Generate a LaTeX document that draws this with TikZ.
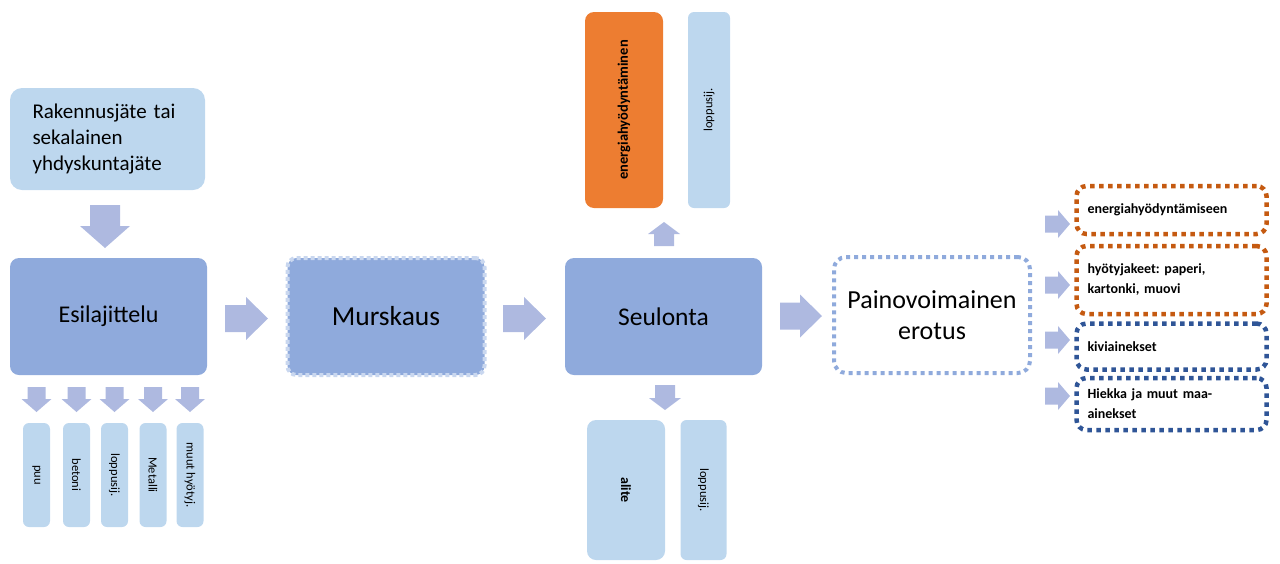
\documentclass[tikz,border=0pt]{standalone}
\usepackage{fontspec}
\setmainfont{Carlito}
\frenchspacing
\definecolor{lightbox}{HTML}{BDD7EE}
\definecolor{midbox}{HTML}{8FAADC}
\definecolor{arrowc}{HTML}{AEB9E0}
\definecolor{orangebox}{HTML}{ED7D31}
\definecolor{dotorange}{HTML}{C55A11}
\definecolor{dotblue}{HTML}{2F5597}
\definecolor{dashlight}{HTML}{C9D7EF}
% block arrow: centre x, centre y, rotation, length, head width, shaft width, head length
\newcommand\blockarr[7]{%
  \fill[arrowc, shift={(#1,#2)}, rotate=#3]
    (-#4/2,-#6/2) -- (#4/2-#7,-#6/2) -- (#4/2-#7,-#5/2) -- (#4/2,0)
    -- (#4/2-#7,#5/2) -- (#4/2-#7,#6/2) -- (-#4/2,#6/2) -- cycle;}
\tikzset{
  lbox/.style={fill=lightbox, draw=none, rounded corners=6pt, inner sep=0pt},
  mbox/.style={fill=midbox, draw=none, rounded corners=9pt, inner sep=0pt, minimum width=197pt, minimum height=117pt},
  rbox/.style={draw=#1, line width=4.5pt, dash pattern=on 4.5pt off 4.5pt, rounded corners=10pt, minimum width=190pt, align=left, text width=168pt, inner sep=0pt, font=\fontsize{14}{20}\selectfont\bfseries},
  vsmall/.style={lbox, rotate=-90, minimum width=104pt, minimum height=27pt, font=\fontsize{12.5}{14}\selectfont},
}
\begin{document}
\begin{tikzpicture}[x=1pt,y=-1pt]
\useasboundingbox (0,0) rectangle (1280,563);
% top-left source
\node[lbox, rounded corners=12pt, minimum width=195pt, minimum height=102pt, text width=150pt, align=left, font=\fontsize{21}{26}\selectfont] (src) at (107.5,139) {Rakennusjäte tai\\ sekalainen\\ yhdyskuntajäte};
\blockarr{105}{226.5}{-90}{43}{50}{30}{22}
% main row
\node[mbox, font=\fontsize{24}{28}\selectfont] (esi) at (108.5,316.5) {Esilajittelu};
\blockarr{246.5}{318.5}{0}{43}{43}{27}{22}
\node[mbox, draw=dashlight, line width=4pt, dash pattern=on 4pt off 3pt, font=\fontsize{27.5}{32}\selectfont] (mur) at (386,316.5) {Murskaus};
\blockarr{524.5}{318.5}{0}{43}{43}{27}{22}
\node[mbox, font=\fontsize{25.5}{30}\selectfont] (seu) at (663.5,316.5) {Seulonta};
\blockarr{801}{316}{0}{42}{43}{27}{22}
\node[draw=midbox, line width=4pt, dash pattern=on 4pt off 4pt, rounded corners=12pt, minimum width=196pt, minimum height=116pt, fill=white, align=center, font=\fontsize{26}{31}\selectfont] (pai) at (932,315) {Painovoimainen\\ erotus};
% above Seulonta
\blockarr{664}{234}{90}{24}{32}{20}{12}
\node[lbox, fill=orangebox, rounded corners=9pt, rotate=90, minimum width=196pt, minimum height=78pt, font=\fontsize{14.5}{16}\selectfont\bfseries] (ene) at (624,110) {energiahyödyntäminen};
\node[lbox, rotate=90, minimum width=196pt, minimum height=42pt, font=\fontsize{12.5}{14}\selectfont] (lt) at (709,110) {loppusij.};
% below Seulonta
\blockarr{665}{397.5}{-90}{25}{32}{20}{12}
\node[lbox, rounded corners=9pt, rotate=-90, minimum width=140pt, minimum height=78pt, font=\fontsize{14}{16}\selectfont\bfseries] (ali) at (626,490) {alite};
\node[lbox, rotate=-90, minimum width=140pt, minimum height=46pt, font=\fontsize{12.5}{14}\selectfont] (lb) at (703.5,490) {loppusij.};
% below Esilajittelu
\foreach \n/\x/\t in {1/36.5/puu, 2/76.5/betoni, 3/114.5/loppusij., 4/153/Metalli, 5/190/muut hyötyj.}{
  \blockarr{\x}{399.5}{-90}{25}{30}{18}{13}
  \node[vsmall] (s\n) at (\x,475) {\t};
}
% right outputs
\blockarr{1057.5}{224}{0}{25}{28}{17}{12}
\blockarr{1057.5}{285}{0}{25}{28}{17}{12}
\blockarr{1057.5}{340}{0}{25}{28}{17}{12}
\blockarr{1057.5}{396}{0}{25}{28}{17}{12}
\node[rbox=dotorange, minimum height=48pt] (o1) at (1171.5,210) {energiahyödyntämiseen};
\node[rbox=dotorange, minimum height=68pt] (o2) at (1171.5,280) {hyötyjakeet: paperi,\\ kartonki, muovi};
\node[rbox=dotblue, minimum height=46pt] (o3) at (1171.5,346.5) {kiviainekset};
\node[rbox=dotblue, minimum height=52pt] (o4) at (1171.5,404) {Hiekka ja muut maa-\\ ainekset};
\end{tikzpicture}
\end{document}
